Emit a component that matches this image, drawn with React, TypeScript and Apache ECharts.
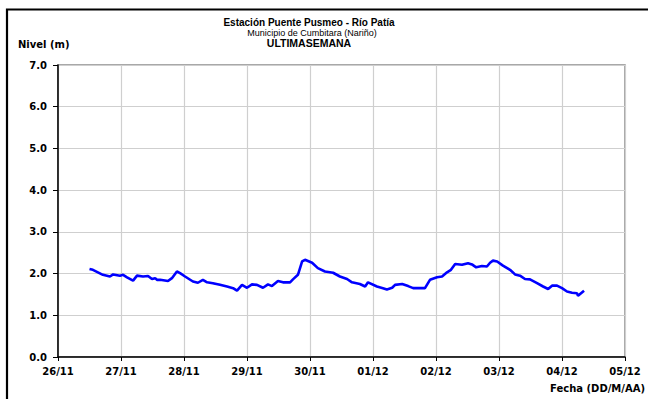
import React, { useEffect, useRef } from "react";
import * as echarts from "echarts";

// Hours elapsed since 26/11 00:00
const hours = [
  12, 13.3, 17.1, 19.8, 21, 23.6, 24.8, 26.3, 28.6, 30.1, 32.4, 34.3, 35.8, 37, 37.7, 38.9,
  41.9, 43.4, 45.3, 46.5, 48.4, 51.4, 53.3, 55.2, 56.8, 59, 61.7, 64.4, 66.7, 68.2, 70.1,
  72, 73.9, 75.8, 78.1, 80, 81.5, 83.8, 85.7, 88.4, 89.5, 91.4, 93, 94.1, 96.8, 99, 101.7,
  104.8, 107.4, 110.1, 112, 115, 117, 118.1, 121.5, 123.8, 125.3, 127.3, 128.4, 131.1,
  133.4, 135.3, 139.8, 141.7, 144.4, 146.3, 148.2, 149.7, 151.3, 153.9, 156.2, 157.7,
  159.3, 161.5, 163.4, 164.6, 165.7, 167.3, 169.5, 172.2, 174.1, 176, 177.9, 179.8,
  182.5, 184.8, 186.7, 188.2, 190.1, 192, 193.9, 195.8, 197.7, 198.1, 200.4,
];
// Nivel (m)
const levels = [
  2.11, 2.09, 1.97, 1.93, 1.98, 1.95, 1.97, 1.91, 1.83, 1.95, 1.93, 1.94, 1.87, 1.89, 1.85, 1.85,
  1.82, 1.89, 2.05, 2.01, 1.93, 1.81, 1.78, 1.85, 1.79, 1.77, 1.73, 1.69, 1.65, 1.59, 1.73,
  1.66, 1.74, 1.73, 1.66, 1.74, 1.7, 1.82, 1.79, 1.79, 1.86, 1.97, 2.29, 2.33, 2.26, 2.13, 2.05,
  2.02, 1.93, 1.87, 1.79, 1.75, 1.69, 1.79, 1.69, 1.65, 1.62, 1.66, 1.73, 1.75,
  1.7, 1.65, 1.65, 1.85, 1.91, 1.93, 2.03, 2.09, 2.23, 2.21, 2.25, 2.22,
  2.15, 2.18, 2.17, 2.26, 2.31, 2.29, 2.19, 2.09, 1.98, 1.95, 1.87, 1.86,
  1.77, 1.69, 1.63, 1.71, 1.71, 1.65, 1.57, 1.54, 1.53, 1.47, 1.59,
];
const xTickLabels = ["26/11", "27/11", "28/11", "29/11", "30/11", "01/12", "02/12", "03/12", "04/12", "05/12"];
const yTicks = [0, 1, 2, 3, 4, 5, 6, 7];

const titleLines = ["Estación Puente Pusmeo - Río Patía", "Municipio de Cumbitara (Nariño)", "ULTIMASEMANA"];

export default function App() {
  const ref = useRef<HTMLDivElement>(null);
  useEffect(() => {
    if (!ref.current) return;
    const chart = echarts.init(ref.current, null, { renderer: "svg" });
    const axisFont = { fontFamily: "DejaVu Sans", fontWeight: "bold" as const, fontSize: 10, color: "#000" };
    chart.setOption({
      animation: false,
      backgroundColor: "#fff",
      grid: {
        left: 58,
        top: 65,
        right: 23,
        bottom: 42,
        show: true,
        borderColor: "#8c8c8c",
        borderWidth: 1.5,
        backgroundColor: "transparent",
      },
      xAxis: {
        type: "value",
        min: 0,
        max: (xTickLabels.length - 1) * 24,
        interval: 24,
        axisLine: { show: true, onZero: false, lineStyle: { color: "#000", width: 1.5 } },
        axisTick: { show: true, length: 4, lineStyle: { color: "#000" } },
        axisLabel: {
          ...axisFont,
          margin: 9,
          formatter: (v: number) => xTickLabels[Math.round(v / 24)] ?? "",
        },
        splitLine: { show: true, lineStyle: { color: "#cfcfcf", width: 1.2 } },
      },
      yAxis: {
        type: "value",
        min: yTicks[0],
        max: yTicks[yTicks.length - 1],
        interval: 1,
        axisLine: { show: true, lineStyle: { color: "#000", width: 1.5 } },
        axisTick: { show: true, length: 5, lineStyle: { color: "#000" } },
        axisLabel: { ...axisFont, margin: 11, formatter: (v: number) => v.toFixed(1) },
        splitLine: { show: true, lineStyle: { color: "#cfcfcf", width: 1.2 } },
      },
      series: [
        {
          type: "line",
          data: hours.map((h, i) => [h, levels[i]]),
          showSymbol: false,
          symbol: "none",
          lineStyle: { color: "#0000ff", width: 2.6 },
          z: 5,
        },
      ],
      graphic: [
        {
          type: "rect",
          shape: { x: 7, y: 9.5, width: 700, height: 500 },
          style: { fill: "none", stroke: "#000", lineWidth: 2.2 },
          silent: true,
        },
        {
          type: "text",
          x: 309,
          y: 22.5,
          style: {
            text: titleLines[0],
            font: "bold 10px 'Liberation Sans'",
            fill: "#000",
            align: "center",
            verticalAlign: "middle",
          },
        },
        {
          type: "text",
          x: 312,
          y: 32.5,
          style: {
            text: titleLines[1],
            font: "9px 'Liberation Sans'",
            fill: "#000",
            align: "center",
            verticalAlign: "middle",
          },
        },
        {
          type: "text",
          x: 309,
          y: 43,
          style: {
            text: titleLines[2],
            font: "bold 10.5px 'Liberation Sans'",
            fill: "#000",
            align: "center",
            verticalAlign: "middle",
          },
        },
        {
          type: "text",
          x: 18,
          y: 44,
          style: {
            text: "Nivel (m)",
            font: "bold 10px 'DejaVu Sans'",
            fill: "#000",
            align: "left",
            verticalAlign: "middle",
          },
        },
        {
          type: "text",
          x: 645,
          y: 388,
          style: {
            text: "Fecha (DD/M/AA)",
            font: "bold 10px 'DejaVu Sans'",
            fill: "#000",
            align: "right",
            verticalAlign: "middle",
          },
        },
      ],
    });
    return () => chart.dispose();
  }, []);
  return (
    <div
      ref={ref}
      style={{ position: "fixed", left: 0, top: 0, width: 648, height: 399, background: "#fff" }}
    />
  );
}
